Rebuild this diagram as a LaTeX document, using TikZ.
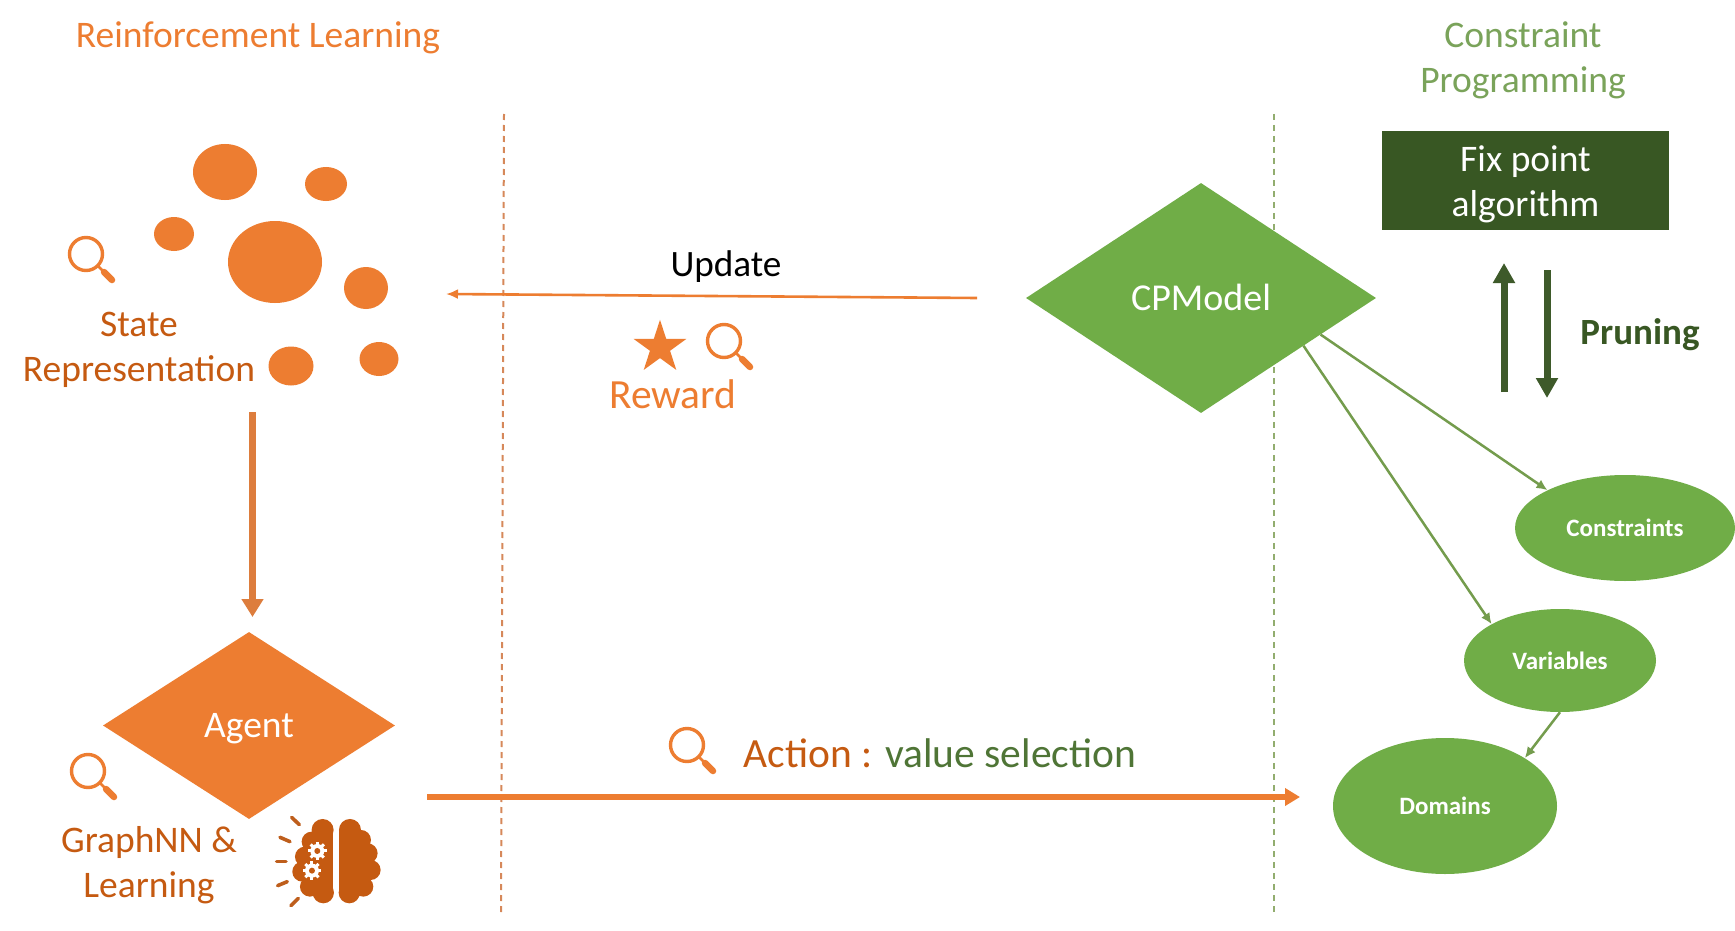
\documentclass[tikz,border=0pt]{standalone}
\usepackage{fontspec}
\setmainfont{Carlito}
\usetikzlibrary{arrows.meta,shapes.geometric,calc}
\definecolor{orA}{HTML}{ED7D31}
\definecolor{orD}{HTML}{C55A11}
\definecolor{grA}{HTML}{70AD47}
\definecolor{grD}{HTML}{385723}
\definecolor{grLine}{HTML}{749C4D}
\definecolor{grDash}{HTML}{92AD6F}
\definecolor{orDash}{HTML}{D6885A}
\definecolor{grTitle}{HTML}{7AA35A}
\definecolor{grText}{HTML}{4F7536}
\newcommand{\fsz}[1]{\fontsize{#1}{#1}\selectfont}
\newcommand{\magnif}[2]{%
  \draw[orA,line width=3.4pt] (#1,#2) circle[radius=16.5];
  \draw[orA,line width=2.5pt] (#1+11,#2+11) -- (#1+17,#2+17);
  \draw[orA,line width=6.5pt,line cap=round] (#1+18,#2+18) -- (#1+26,#2+26);}
\newcommand{\gearshape}[2]{%
  \foreach \a in {0,45,...,315}{\draw[white,line width=3pt] (#1,#2) -- ++(\a:28);}
  \fill[white] (#1,#2) circle[radius=21];
  \fill[orD] (#1,#2) circle[radius=9];}
\tikzset{
  lab/.style={align=center,inner sep=0pt},
  blob/.style={fill=orA},
  dash line/.style={line width=2pt,dash pattern=on 6pt off 5pt},
  thinarrow/.style={draw=grLine,line width=2.5pt,-{Latex[length=11pt,width=10pt]}},
  vertarrow/.style={draw=grD!92!gray,line width=7pt,-{Triangle[length=20pt,width=21pt]}},
  bub/.style={ellipse,fill=grA,text=white,inner sep=0pt,font=\fsz{25}\bfseries},
}
\begin{document}
\begin{tikzpicture}[x=1pt,y=-1pt]
\useasboundingbox[fill=white] (0,0) rectangle (1735,931);
% titles
\node[lab,text=orA,font=\fsz{37.5}] (t1) at (258,38) {Reinforcement Learning};
\node[lab,text=grTitle,font=\fsz{37.5},text width=300pt] (t2) at (1523,60) {Constraint\\[7.5pt]Programming};
% dashed separators
\draw[dash line,draw=orDash] (504,114) -- (501,915);
\draw[dash line,draw=grDash] (1274,114) -- (1274,915);
% state blobs
\fill[blob] (275,262) ellipse[x radius=47,y radius=41];
\fill[blob] (225,172) ellipse[x radius=32,y radius=28];
\fill[blob] (326,184) ellipse[x radius=21,y radius=17];
\fill[blob] (174,234) ellipse[x radius=20,y radius=17];
\fill[blob] (366,288) ellipse[x radius=22,y radius=21];
\fill[blob] (291,366) ellipse[x radius=22.5,y radius=19.5];
\fill[blob] (379,359) ellipse[x radius=19.5,y radius=17];
\magnif{86}{254}
\node[lab,text=orD,font=\fsz{37.5}] (state) at (139,350) {State\\[7.5pt]Representation};
% diamonds
\node[diamond,fill=orA,inner sep=0pt,minimum width=292pt,minimum height=187pt,
  label={[lab,text=white,font=\fsz{37.5},yshift=-3.5pt]center:Agent}] (agent) at (249,725.5) {};
\node[diamond,fill=grA,text=white,inner sep=0pt,minimum width=350pt,minimum height=230pt,font=\fsz{38}] (cp) at (1201,298) {\raisebox{1pt}{CPModel}};
% state to agent
\coordinate (sa1) at (252.5,412);
\coordinate (sa2) at (252.5,617);
\draw[draw=orA!85!gray,line width=7pt,-{Triangle[length=18pt,width=21pt]}] (sa1) -- (sa2);
% agent texts
\magnif{88}{771}
\node[lab,text=orD,font=\fsz{37.5}] (gnn) at (149,865) {GraphNN \&\\[7.5pt]Learning};
% brain
\begin{scope}[shift={(0,620)},x=0.3333pt,y=-0.3333pt]
  \foreach \cx/\cy/\r in {968/630/33,935/665/30,915/710/30,907/755/30,930/800/30,970/818/32,
                          1050/630/33,1083/660/30,1103/700/30,1112/750/30,1090/800/30,1048/818/32}{
    \fill[orD] (\cx,\cy) circle[radius=\r];}
  \fill[orD] (940,628) rectangle (1000,820);
  \fill[orD] (905,680) rectangle (960,800);
  \fill[orD] (1018,628) rectangle (1075,820);
  \fill[orD] (1060,680) rectangle (1110,800);
  \gearshape{952}{693}
  \gearshape{936}{752}
  \foreach \ax/\ay/\bx/\by in {875/592/898/614,840/652/870/665,830/724/858/724,833/797/862/785,873/857/895/835}{
    \draw[orD!90!gray,line width=3.6pt,line cap=round] (\ax,\ay) -- (\bx,\by);}
\end{scope}
% update
\coordinate (u1) at (977,298);
\coordinate (u2) at (446,294);
\draw[draw=orA,line width=2.6pt,-{Latex[length=12pt,width=10pt]}] (u1) -- (u2);
\node[lab,font=\fsz{37.2}] (upd) at (726,267) {Update};
\node[star,star points=5,star point ratio=2.618,fill=orA,inner sep=0pt,minimum size=55.4pt] (star1) at (660,347.5) {};
\magnif{724}{341}
\node[lab,text=orA,font=\fsz{41.5}] (rew) at (673,394) {Reward};
% action
\coordinate (a1) at (427,797);
\coordinate (a2) at (1300,797);
\draw[draw=orA,line width=6pt,-{Triangle[length=15pt,width=17pt]}] (a1) -- (a2);
\magnif{687}{745}
\node[lab,font=\fsz{41.5}] (act) at (940,753) {\textcolor{orD}{Action :} \textcolor{grText}{value selection}};
% CP side
\node[fill=grD,inner sep=0pt,minimum width=287pt,minimum height=99pt,
  label={[lab,text=white,font=\fsz{37.5},yshift=-3.8pt]center:{Fix point\\[7.5pt]algorithm}}] (fix) at (1525.5,180.5) {};
\coordinate (p1) at (1504,392);
\coordinate (p2) at (1504,263);
\coordinate (p3) at (1547,270);
\coordinate (p4) at (1547,398);
\draw[vertarrow] (p1) -- (p2);
\draw[vertarrow] (p3) -- (p4);
\node[lab,text=grD,font=\fsz{37}\bfseries] (prun) at (1640,335) {Pruning};
\node[bub,minimum width=220pt,minimum height=106pt] (cons) at (1625,528) {Constraints};
\node[bub,minimum width=192pt,minimum height=103pt] (vars) at (1560,660.5) {Variables};
\node[bub,minimum width=224pt,minimum height=136pt] (dom) at (1445,806) {Domains};
\draw[thinarrow] (cp.-17.4) -- (cons.154);
\draw[thinarrow] (cp.-25) -- (vars.152);
\draw[thinarrow] (vars.-90) -- (dom.31);
\end{tikzpicture}
\end{document}
